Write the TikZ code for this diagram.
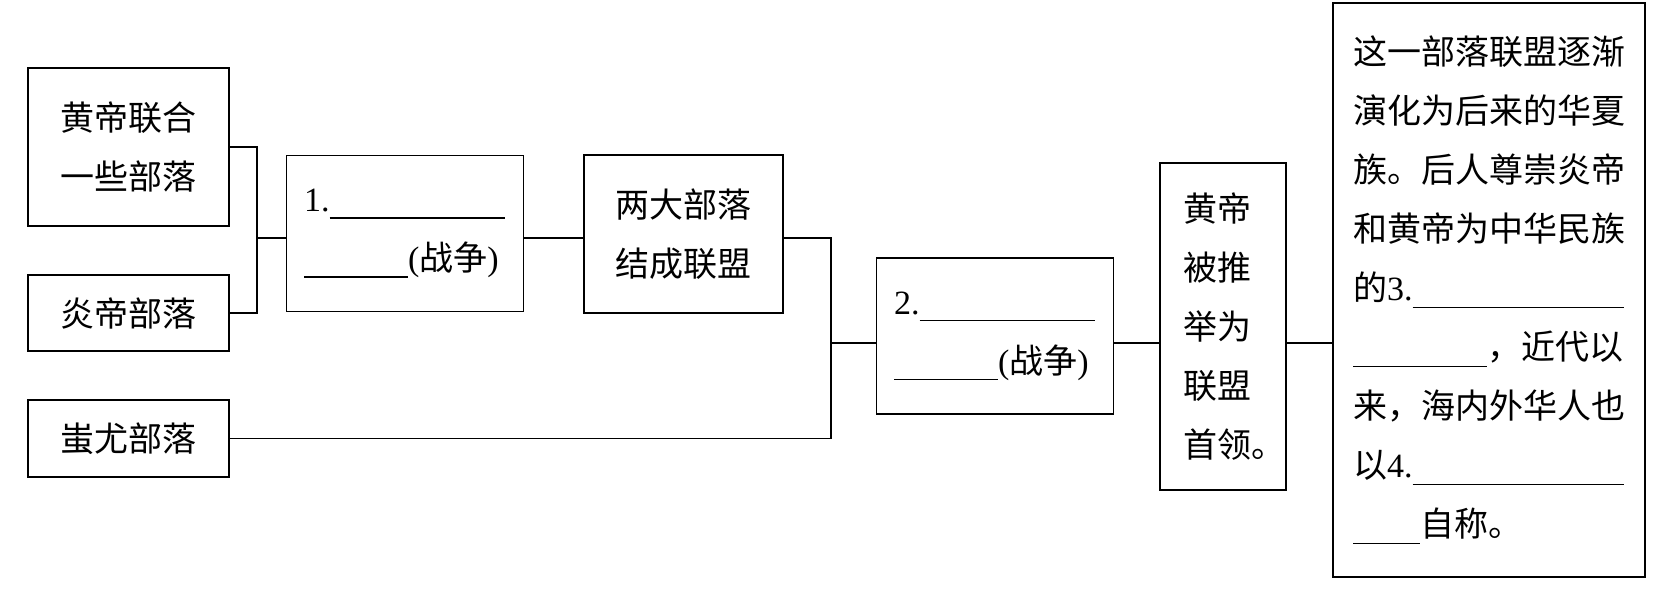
\documentclass[tikz,border=0pt]{standalone}
\usepackage{fontspec}
\setmainfont{Noto Sans CJK SC}
\newfontfamily\lat{Liberation Serif}
\newcommand{\answerline}[1]{\rule[-3.5pt]{#1}{0.6pt}}
\begin{document}
\begin{tikzpicture}[x=0.5pt, y=-0.5pt,
    box/.style={draw, line width=0.9pt, inner sep=0pt, align=center,
                font=\fontsize{17}{29.5}\selectfont},
    warbox/.style={box, align=left, text width=101pt,
                   minimum width=118.5pt, minimum height=78pt},
    link/.style={line width=0.9pt}]
  \useasboundingbox (0,0) rectangle (1666,589);
  \node[box, minimum width=100.5pt, minimum height=79pt] (huangdi) at (128.5,147) {黄帝联合\\一些部落};
  \node[box, minimum width=100.5pt, minimum height=38pt] (yandi) at (128.5,313) {炎帝部落};
  \node[box, minimum width=100.5pt, minimum height=38.5pt] (chiyou) at (128.5,438.5) {蚩尤部落};
  \node[warbox] (war1) at (405,233.5) {{\lat 1.}\answerline{87.5pt}\\\answerline{52pt}{\lat (}战争{\lat )}};
  \node[box, minimum width=99.5pt, minimum height=79pt] (union) at (683.5,234) {两大部落\\结成联盟};
  \node[warbox] (war2) at (995,336) {{\lat 2.}\answerline{87.5pt}\\\answerline{52pt}{\lat (}战争{\lat )}};
  \node[box, align=left, text width=40pt, minimum width=63pt, minimum height=163.5pt] (leader) at (1223,326.5)
    {黄帝\\被推\\举为\\联盟\\首领。};
  \node[box, align=left, text width=136pt, minimum width=156pt, minimum height=287pt] (huaxia) at (1489,290)
    {这一部落联盟逐渐\\演化为后来的华夏\\族。后人尊崇炎帝\\和黄帝为中华民族\\的{\lat 3.}\answerline{105.5pt}\\
     \answerline{67pt}，近代以\\来，海内外华人也\\以{\lat 4.}\answerline{105.5pt}\\\answerline{33.5pt}自称。};
  \coordinate (j1) at (257,238);
  \coordinate (j2) at (831,343);
  \draw[link] (huangdi.east) -| (j1) |- (yandi.east);
  \draw[link] (j1) -- (war1.west |- j1);
  \draw[link] (war1.east |- j1) -- (union.west |- j1);
  \draw[link] (union.east |- j1) -| (j2) |- (chiyou.east);
  \draw[link] (j2) -- (war2.west |- j2);
  \draw[link] (war2.east |- j2) -- (leader.west |- j2);
  \draw[link] (leader.east |- j2) -- (huaxia.west |- j2);
\end{tikzpicture}
\end{document}
